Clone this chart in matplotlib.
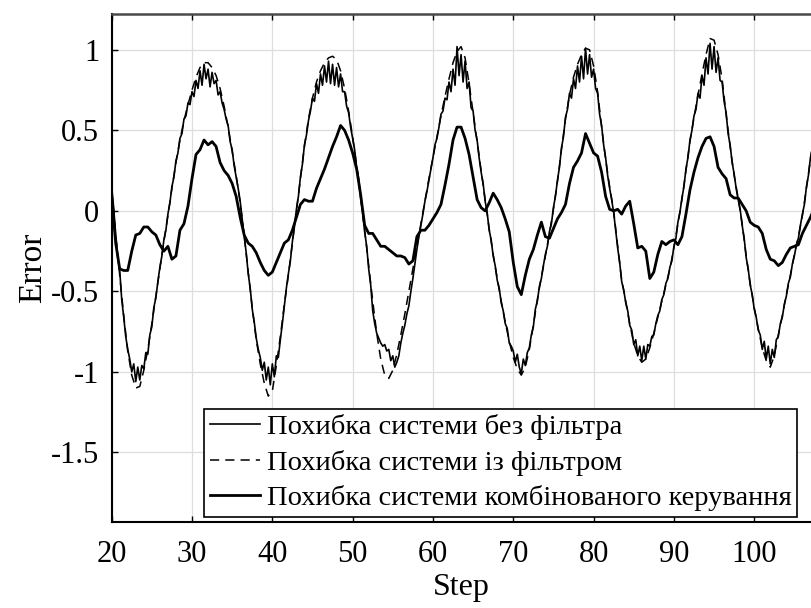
import numpy as np
import matplotlib
matplotlib.use("Agg")
import matplotlib.pyplot as plt

# ---- data -------------------------------------------------------------
# error without filter (sampled every 0.25 step, from 20 to 107.5)
step_fine = np.arange(20.0, 107.5 + 1e-9, 0.25)
err_no_filter = [
    0.15, 0.02, -0.15, -0.29, -0.37, -0.55, -0.66, -0.78,
    -0.86, -0.92, -1.00, -0.95, -1.06, -0.97, -1.05, -0.96,
    -0.98, -0.88, -0.89, -0.77, -0.72, -0.60, -0.54, -0.44,
    -0.35, -0.28, -0.18, -0.12, -0.02, 0.05, 0.15, 0.21,
    0.31, 0.36, 0.45, 0.48, 0.57, 0.59, 0.67, 0.66,
    0.74, 0.71, 0.81, 0.76, 0.87, 0.78, 0.91, 0.82,
    0.88, 0.77, 0.86, 0.79, 0.81, 0.72, 0.74, 0.67,
    0.63, 0.57, 0.53, 0.43, 0.38, 0.28, 0.21, 0.14,
    0.06, -0.05, -0.16, -0.26, -0.39, -0.48, -0.61, -0.69,
    -0.79, -0.86, -0.91, -0.99, -0.94, -1.05, -0.97, -1.08,
    -0.95, -1.03, -0.90, -0.91, -0.80, -0.70, -0.59, -0.48,
    -0.39, -0.31, -0.19, -0.10, 0.01, 0.09, 0.21, 0.29,
    0.41, 0.47, 0.56, 0.62, 0.70, 0.68, 0.79, 0.73,
    0.85, 0.78, 0.90, 0.80, 0.93, 0.79, 0.91, 0.78,
    0.89, 0.77, 0.85, 0.74, 0.74, 0.65, 0.61, 0.52,
    0.45, 0.38, 0.27, 0.20, 0.08, -0.01, -0.13, -0.22,
    -0.36, -0.46, -0.62, -0.70, -0.76, -0.79, -0.82, -0.84,
    -0.83, -0.87, -0.86, -0.93, -0.90, -0.97, -0.94, -0.90,
    -0.82, -0.76, -0.71, -0.64, -0.59, -0.50, -0.42, -0.33,
    -0.24, -0.16, -0.09, -0.02, 0.06, 0.12, 0.19, 0.26,
    0.33, 0.41, 0.45, 0.52, 0.60, 0.62, 0.70, 0.69,
    0.80, 0.74, 0.88, 0.78, 1.02, 0.84, 0.97, 0.80,
    0.93, 0.76, 0.80, 0.64, 0.62, 0.50, 0.44, 0.33,
    0.24, 0.17, 0.06, -0.01, -0.12, -0.18, -0.28, -0.34,
    -0.43, -0.48, -0.57, -0.62, -0.70, -0.73, -0.82, -0.84,
    -0.87, -0.94, -0.89, -0.97, -1.01, -0.92, -0.96, -0.88,
    -0.85, -0.77, -0.72, -0.61, -0.56, -0.47, -0.42, -0.34,
    -0.27, -0.22, -0.13, -0.08, 0.02, 0.09, 0.19, 0.27,
    0.39, 0.46, 0.58, 0.63, 0.73, 0.70, 0.82, 0.76,
    0.90, 0.80, 0.96, 0.82, 1.01, 0.85, 0.97, 0.83,
    0.88, 0.76, 0.73, 0.60, 0.53, 0.41, 0.33, 0.22,
    0.14, 0.07, -0.01, -0.12, -0.23, -0.32, -0.44, -0.49,
    -0.57, -0.62, -0.71, -0.74, -0.83, -0.80, -0.90, -0.84,
    -0.93, -0.84, -0.92, -0.83, -0.84, -0.78, -0.77, -0.70,
    -0.65, -0.62, -0.55, -0.52, -0.45, -0.42, -0.35, -0.31,
    -0.22, -0.17, -0.07, -0.01, 0.08, 0.15, 0.26, 0.33,
    0.44, 0.50, 0.59, 0.63, 0.73, 0.70, 0.84, 0.78,
    0.95, 0.85, 1.04, 0.88, 1.02, 0.86, 0.95, 0.81,
    0.80, 0.68, 0.61, 0.48, 0.41, 0.30, 0.23, 0.14,
    0.07, 0.01, -0.09, -0.17, -0.29, -0.36, -0.46, -0.52,
    -0.61, -0.66, -0.74, -0.77, -0.86, -0.81, -0.92, -0.84,
    -0.95, -0.86, -0.91, -0.80, -0.78, -0.70, -0.66, -0.58,
    -0.53, -0.45, -0.41, -0.33, -0.28, -0.21, -0.17, -0.09,
    -0.02, 0.04, 0.15, 0.22, 0.33, 0.39, 0.49,
]

# error with filter and error of combined control (every 0.5 step)
step_half = np.arange(20.0, 107.5 + 1e-9, 0.5)
err_filter = [
    0.12, -0.14, -0.40, -0.65, -0.87, -1.02, -1.10, -1.09, -0.99, -0.86,
    -0.70, -0.53, -0.36, -0.19, -0.03, 0.14, 0.30, 0.44, 0.56, 0.66,
    0.75, 0.83, 0.89, 0.92, 0.92, 0.89, 0.84, 0.76, 0.65, 0.52,
    0.37, 0.22, 0.05, -0.15, -0.38, -0.60, -0.80, -0.95, -1.07, -1.15,
    -1.12, -0.96, -0.78, -0.58, -0.40, -0.20, 0.00, 0.20, 0.40, 0.57,
    0.70, 0.80, 0.87, 0.92, 0.95, 0.96, 0.94, 0.87, 0.76, 0.62,
    0.46, 0.28, 0.09, -0.12, -0.34, -0.56, -0.76, -0.92, -1.02, -1.04,
    -0.99, -0.89, -0.77, -0.64, -0.50, -0.36, -0.22, -0.08, 0.06, 0.20,
    0.33, 0.46, 0.59, 0.71, 0.82, 0.92, 0.99, 1.02, 0.95, 0.79,
    0.61, 0.43, 0.25, 0.07, -0.11, -0.27, -0.42, -0.56, -0.69, -0.81,
    -0.91, -0.98, -1.02, -0.97, -0.86, -0.71, -0.55, -0.41, -0.28, -0.14,
    0.01, 0.18, 0.38, 0.57, 0.72, 0.83, 0.91, 0.97, 1.01, 1.00,
    0.90, 0.74, 0.52, 0.32, 0.15, 0.00, -0.22, -0.43, -0.56, -0.70,
    -0.82, -0.90, -0.94, -0.92, -0.85, -0.76, -0.66, -0.56, -0.46, -0.36,
    -0.23, -0.08, 0.07, 0.25, 0.43, 0.58, 0.72, 0.85, 0.97, 1.07,
    1.06, 0.97, 0.82, 0.60, 0.40, 0.22, 0.08, -0.08, -0.28, -0.45,
    -0.60, -0.73, -0.85, -0.93, -0.97, -0.90, -0.77, -0.65, -0.52, -0.40,
    -0.27, -0.16, -0.03, 0.14, 0.32, 0.48,
]
err_combined = [
    0.09, -0.20, -0.36, -0.37, -0.37, -0.25, -0.15, -0.14, -0.10, -0.10,
    -0.13, -0.15, -0.21, -0.25, -0.22, -0.30, -0.28, -0.12, -0.08, 0.03,
    0.20, 0.35, 0.38, 0.44, 0.41, 0.43, 0.40, 0.30, 0.25, 0.22,
    0.17, 0.09, -0.04, -0.15, -0.20, -0.22, -0.26, -0.32, -0.37, -0.40,
    -0.38, -0.32, -0.26, -0.20, -0.18, -0.12, -0.04, 0.04, 0.07, 0.06,
    0.06, 0.14, 0.20, 0.26, 0.33, 0.40, 0.46, 0.53, 0.50, 0.44,
    0.36, 0.26, 0.10, -0.09, -0.14, -0.14, -0.18, -0.22, -0.22, -0.24,
    -0.26, -0.28, -0.28, -0.29, -0.33, -0.31, -0.16, -0.12, -0.12, -0.09,
    -0.05, -0.01, 0.04, 0.16, 0.29, 0.44, 0.52, 0.52, 0.45, 0.35,
    0.21, 0.07, 0.02, 0.00, 0.05, 0.11, 0.07, 0.02, -0.05, -0.13,
    -0.32, -0.47, -0.52, -0.40, -0.30, -0.24, -0.15, -0.07, -0.16, -0.17,
    -0.11, -0.05, -0.01, 0.04, 0.17, 0.27, 0.31, 0.36, 0.48, 0.42,
    0.36, 0.34, 0.24, 0.09, 0.01, 0.00, 0.01, -0.02, 0.03, 0.06,
    -0.08, -0.23, -0.22, -0.25, -0.42, -0.38, -0.27, -0.19, -0.21, -0.19,
    -0.18, -0.21, -0.16, -0.02, 0.13, 0.24, 0.33, 0.40, 0.45, 0.46,
    0.40, 0.27, 0.23, 0.20, 0.10, 0.08, 0.08, 0.04, 0.00, -0.07,
    -0.09, -0.10, -0.14, -0.24, -0.30, -0.31, -0.34, -0.32, -0.27, -0.23,
    -0.22, -0.21, -0.14, -0.09, -0.04, 0.02,
]

labels = [
    "Похибка системи без фільтра",
    "Похибка системи із фільтром",
    "Похибка системи комбінованого керування",
]
x_ticks = [20, 30, 40, 50, 60, 70, 80, 90, 100]
y_ticks = [-1.5, -1.0, -0.5, 0.0, 0.5, 1.0]
y_tick_labels = ["-1.5", "-1", "-0.5", "0", "0.5", "1"]

# ---- figure -----------------------------------------------------------
plt.rcParams["font.family"] = ["Liberation Serif", "DejaVu Serif"]
plt.rcParams["axes.unicode_minus"] = False

fig = plt.figure(figsize=(8.11, 6.08), dpi=100)
ax = fig.add_axes([0.1377, 0.1419, 0.8623, 0.8355])

ax.plot(step_fine, err_no_filter, color="black", lw=1.2, label=labels[0])
ax.plot(step_half, err_filter, color="black", lw=1.1,
        dashes=(6, 4), label=labels[1])
ax.plot(step_half, err_combined, color="black", lw=2.0, label=labels[2])

ax.set_xlim(20, 107.07)
ax.set_ylim(-1.93, 1.224)
ax.set_xticks(x_ticks)
ax.set_xticklabels([str(t) for t in x_ticks])
ax.set_yticks(y_ticks)
ax.set_yticklabels(y_tick_labels)

ax.grid(True, color="#dedede", lw=0.9)
ax.set_axisbelow(True)

ax.tick_params(axis="both", direction="in", length=4, width=1.0,
               labelsize=22, colors="black")
ax.tick_params(axis="x", top=True, pad=13)
ax.tick_params(axis="y", right=False, pad=9)

ax.spines["right"].set_visible(False)
ax.spines["top"].set_color("#4a4a4a")
ax.spines["top"].set_linewidth(1.8)
for side in ("left", "bottom"):
    ax.spines[side].set_color("black")
    ax.spines[side].set_linewidth(1.5)

ax.set_xlabel("Step", fontsize=23, labelpad=3)
ax.set_ylabel("Error", fontsize=24, labelpad=2)

leg = ax.legend(loc="lower right", bbox_to_anchor=(0.983, 0.150),
                bbox_transform=fig.transFigure, borderaxespad=0,
                fontsize=20.5, frameon=True, fancybox=False,
                handlelength=1.75, handletextpad=0.25, labelspacing=0.33,
                borderpad=0.2)
leg.get_frame().set_edgecolor("black")
leg.get_frame().set_linewidth(1.2)
leg.get_frame().set_facecolor("white")
leg.get_frame().set_alpha(1.0)

fig.savefig("out.png", dpi=100)
